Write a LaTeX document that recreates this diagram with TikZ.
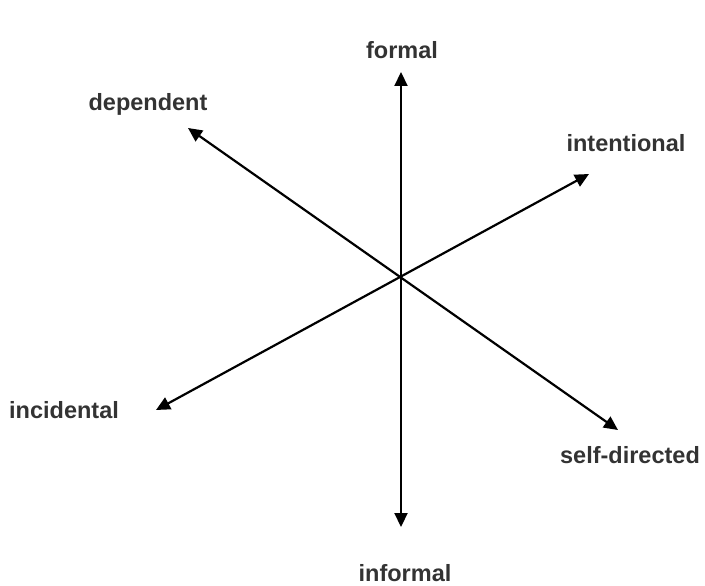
\documentclass[tikz,border=0pt]{standalone}
\usepackage{fontspec}
\setmainfont{Liberation Sans}
\usepackage{xcolor}
\usetikzlibrary{arrows.meta, positioning}
\definecolor{labelgray}{HTML}{333333}
\tikzset{
    axislabel/.style={
        font=\bfseries\fontsize{23.5}{27}\selectfont,
        text=labelgray,
        inner sep=0pt
    },
    axisarrow/.style={
        {Triangle[length=14pt, width=13pt]}-{Triangle[length=14pt, width=13pt]},
        line width=2.2pt,
        draw=black
    }
}
\begin{document}
\begin{tikzpicture}[x=1pt, y=-1pt]
    \useasboundingbox (0,0) rectangle (705,586);

    % arrow tips
    \coordinate (top) at (401,72);
    \coordinate (bottom) at (401,527);
    \coordinate (dep) at (188,128);
    \coordinate (self) at (618,430);
    \coordinate (inc) at (156,410);
    \coordinate (int) at (589,174);

    \node[axislabel] (formal) at (402,50) {formal};
    \node[axislabel] (informal) at (405,573) {informal};
    \node[axislabel] (dependent) at (148,104) {dependent};
    \node[axislabel] (intentional) at (626,143) {intentional};
    \node[axislabel] (incidental) at (64,410) {incidental};
    \node[axislabel] (selfdirected) at (630,455) {self-directed};

    \draw[axisarrow] (bottom) -- (top);
    \draw[axisarrow] (self) -- (dep);
    \draw[axisarrow] (inc) -- (int);
\end{tikzpicture}
\end{document}
